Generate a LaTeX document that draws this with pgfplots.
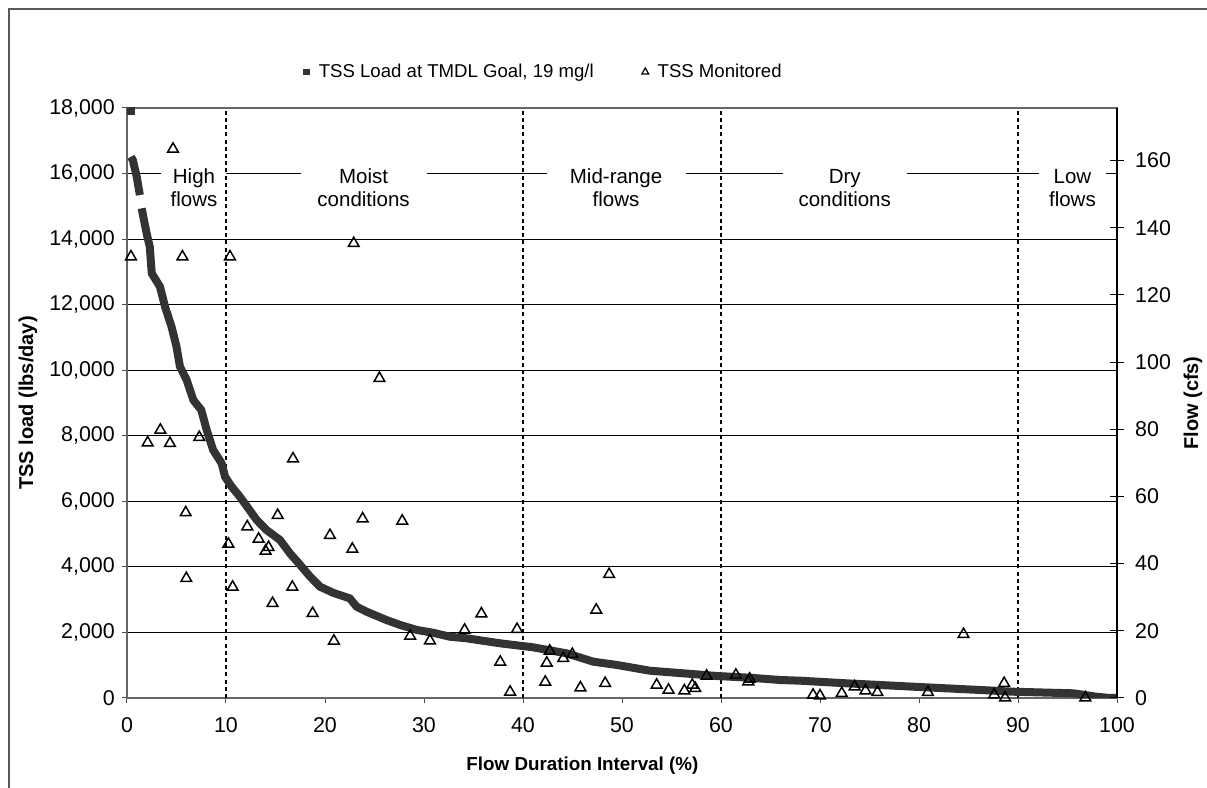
\documentclass[border=0pt]{standalone}
\usepackage{fontspec}
\setmainfont{Liberation Sans}
\usepackage{pgfplots}
\pgfplotsset{compat=1.18}
\definecolor{load}{HTML}{333333}
\begin{document}
\fontsize{10.25}{11.5}\selectfont
\begin{tikzpicture}
\useasboundingbox (0,0) rectangle (603.5pt,394pt);
\draw[black!65, line width=0.6pt] (4.5pt,-20pt) -- (4.5pt,389.5pt) -- (620pt,389.5pt);
\begin{axis}[
  at={(63.5pt,45pt)}, anchor=south west,
  scale only axis, width=495pt, height=295pt,
  xmin=0, xmax=100, ymin=0, ymax=18000,
  xtick={0,10,...,100}, ytick={0,2000,...,18000},
  scaled y ticks=false, scaled x ticks=false,
  xtick pos=bottom, ytick pos=left, tick align=outside,
  major tick length=2.5pt,
  tick style={black!70, line width=0.5pt},
  axis line style={black!60, line width=0.7pt},
  ymajorgrids, grid style={black, line width=0.5pt},
  /pgf/number format/assume math mode=true,
  yticklabel style={/pgf/number format/fixed, /pgf/number format/1000 sep={,}},
  tick label style={font=\fontsize{10.7}{12}\selectfont},
  xticklabel style={yshift=-3.5pt},
  xlabel={\bfseries Flow Duration Interval (\%)},
  ylabel={\bfseries TSS load (lbs/day)},
  xlabel style={at={(axis description cs:0.46,-0.115)}, anchor=center, font=\fontsize{9.4}{11}\selectfont},
  ylabel style={at={(axis description cs:-0.1,0.5)}, anchor=center, font=\fontsize{10}{11}\selectfont},
  legend style={at={(0.422,1.061)}, anchor=center, draw=none, fill=none,
    legend columns=2, font=\fontsize{9.3}{11}\selectfont,
    /tikz/every even column/.append style={column sep=22pt},
    legend cell align=left},
  legend image code/.code={\draw[#1] plot coordinates {(0cm,0cm)}; \path (0.14cm,0cm);},
]
\addlegendimage{only marks, mark=square*, mark size=1.3pt, load}
\addlegendentry{TSS Load at TMDL Goal, 19 mg/l}
\addlegendimage{only marks, mark=triangle, mark size=2pt, black, mark options={line width=0.6pt}}
\addlegendentry{TSS Monitored}

% white boxes interrupting the 16,000 gridline
\fill[white] (axis cs:3.43,15700) rectangle (axis cs:10.0,16300);
\fill[white] (axis cs:17.6,15700) rectangle (axis cs:30.3,16300);
\fill[white] (axis cs:42.4,15700) rectangle (axis cs:56.5,16300);
\fill[white] (axis cs:66.3,15700) rectangle (axis cs:78.8,16300);
\fill[white] (axis cs:92.1,15700) rectangle (axis cs:98.9,16300);

% flow regime boundaries
\foreach \xv in {10,40,60,90} {
  \edef\tmp{\noexpand\draw[black, line width=1pt, dash pattern=on 2pt off 1.6pt] (axis cs:\xv,0) -- (axis cs:\xv,18000);}
  \tmp
}

% TSS load at TMDL goal
\addplot[forget plot, only marks, mark=square*, mark size=1.9pt, load, mark options={line width=0pt}] coordinates {(0.4,17907)};
\addplot[forget plot, load, line width=4pt, no marks] coordinates {
(0.4,16513) (0.6,16400) (0.98,15903) (1.3,15345)};
\addplot[forget plot, load, line width=4pt, no marks] coordinates {
(1.48,14939) (1.98,14177) (2.3,13769) (2.5,12956) (3.33,12548) (3.84,11937)
(4.5,11327) (5.0,10717) (5.35,10107) (6.03,9700) (6.7,9091) (7.5,8786)
(8.05,8176) (8.7,7566) (9.56,7160) (9.9,6751) (10.57,6446) (11.4,6141)
(12.25,5787) (13.1,5430) (14.1,5125) (15.45,4820) (16.46,4414) (17.5,4057)
(18.5,3700) (19.5,3395) (20.8,3212) (22.5,3041) (23.2,2785) (24.2,2633)
(26.2,2380) (27.6,2227) (29.3,2074) (30.9,1992) (32.6,1870) (34.3,1821)
(37.7,1668) (41.0,1547) (44.4,1363) (47.1,1108) (49.5,1007) (52.8,833)
(56.2,753) (59.6,671) (62.9,619) (66.0,549) (68.0,528) (72.7,448)
(79.4,345) (86.2,244) (89.5,192) (95.6,143) (97.9,40) (99.3,0) (100,0)};

% TSS monitored
\addplot[forget plot, only marks, mark=triangle, mark size=3.1pt, black, mark options={line width=0.75pt, fill=white}] coordinates {
(4.65,16748) (0.4,13463) (5.6,13463) (10.4,13463) (22.9,13870) (25.5,9753)
(2.09,7789) (3.37,8176) (4.34,7770) (7.3,7953) (16.77,7300) (5.93,5655)
(5.99,3650) (10.24,4698) (10.67,3386) (12.15,5226) (13.3,4850) (14.0,4484)
(14.3,4597) (15.22,5574) (14.7,2889) (16.7,3386) (18.75,2584) (20.5,4963)
(20.9,1739) (22.76,4545) (23.8,5470) (27.8,5400) (28.6,1891) (30.6,1748)
(34.1,2074) (35.8,2572) (37.7,1098) (38.7,183) (39.4,2096) (42.25,488)
(42.4,1068) (42.7,1434) (44.07,1211) (44.98,1333) (45.8,314) (47.4,2685)
(48.3,448) (48.7,3773) (53.5,397) (54.7,244) (56.3,223) (57.1,397)
(57.4,296) (58.55,671) (61.5,702) (62.76,498) (62.9,580) (69.3,92)
(70.0,70) (72.2,143) (73.5,345) (74.6,223) (75.8,174) (80.9,174)
(84.5,1943) (87.6,101) (88.6,448) (88.7,9) (96.8,9)};

% regime labels
\node[align=center] at (axis cs:6.77,15558) {High\\flows};
\node[align=center] at (axis cs:23.9,15558) {Moist\\conditions};
\node[align=center] at (axis cs:49.4,15558) {Mid-range\\flows};
\node[align=center] at (axis cs:72.5,15558) {Dry\\conditions};
\node[align=center] at (axis cs:95.5,15558) {Low\\flows};
\end{axis}

\begin{axis}[
  at={(63.5pt,45pt)}, anchor=south west,
  scale only axis, width=495pt, height=295pt,
  xmin=0, xmax=100, ymin=0, ymax=175.63,
  hide x axis, axis y line*=right,
  axis line style={-, black, line width=0.6pt},
  ytick={0,20,...,160}, tick align=center, major tick length=7pt,
  tick style={black, line width=0.5pt},
  /pgf/number format/assume math mode=true,
  tick label style={font=\fontsize{10.7}{12}\selectfont},
  yticklabel style={xshift=2pt},
  ylabel={\bfseries Flow (cfs)},
  ylabel style={at={(axis description cs:1.0768,0.5)}, anchor=center, font=\fontsize{10}{11}\selectfont},
]
\addplot[draw=none] coordinates {(0,0)};
\end{axis}
\end{tikzpicture}
\end{document}
